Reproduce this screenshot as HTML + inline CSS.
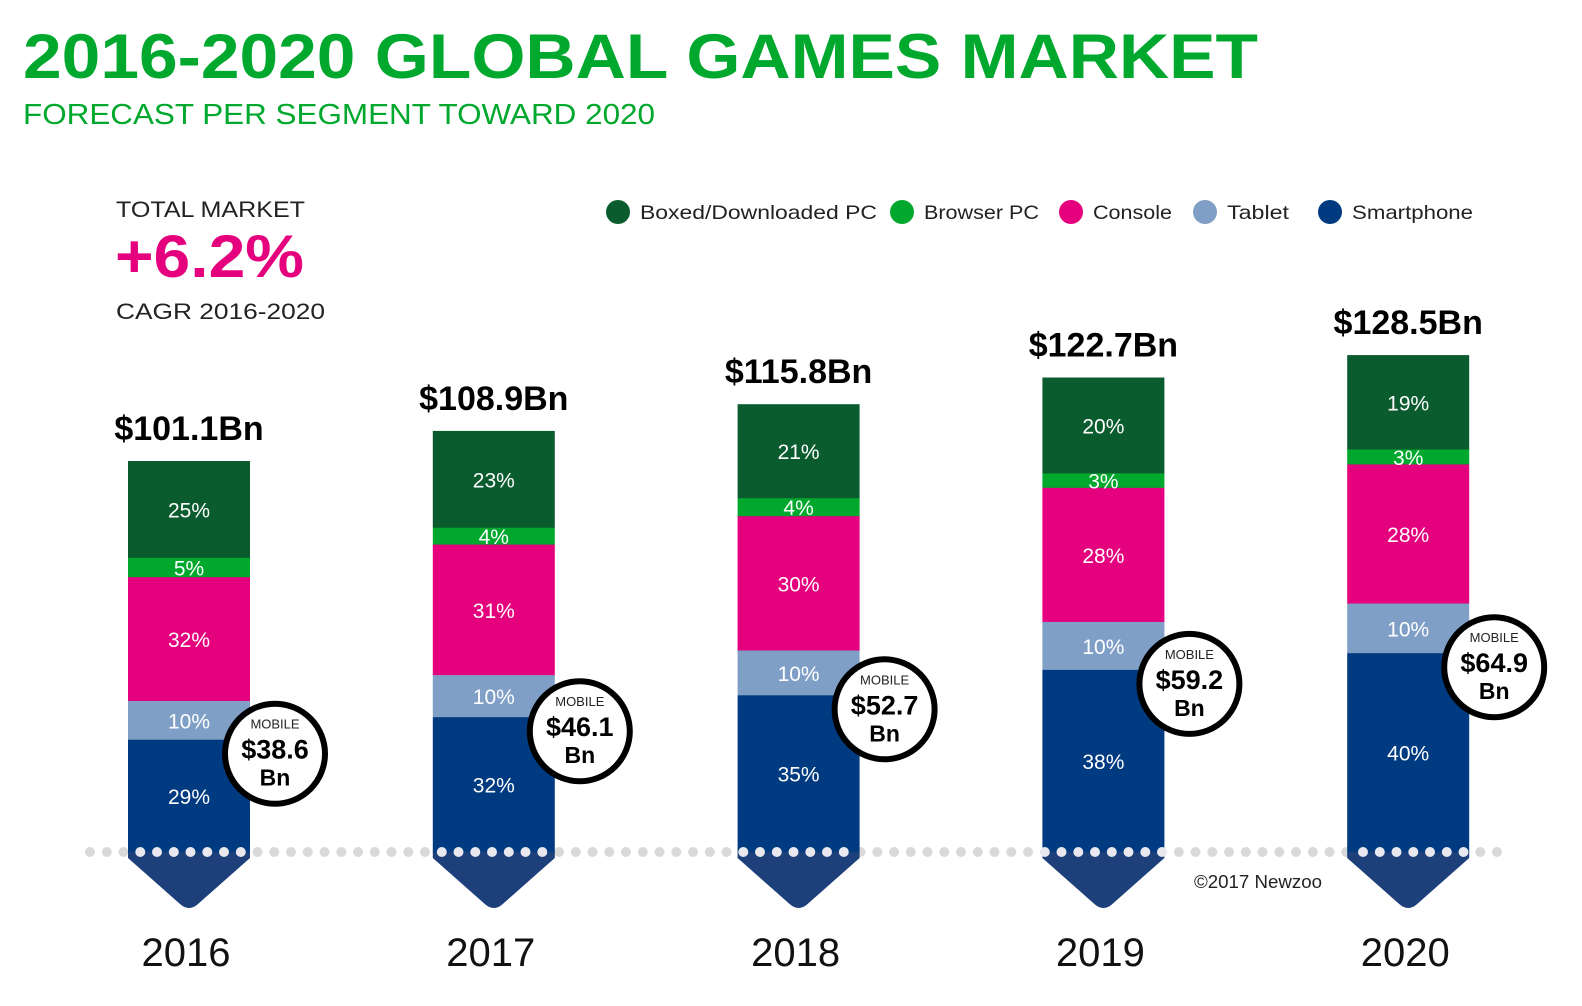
<!DOCTYPE html>
<html><head><meta charset="utf-8"><style>
html,body{margin:0;padding:0;background:#fff;}
svg{display:block;font-family:"Liberation Sans",sans-serif;}
</style></head><body>
<svg id="chart" width="1582" height="1006" viewBox="0 0 1582 1006">
<text x="23" y="78" font-size="63" font-weight="bold" fill="#00a82d" textLength="1235" lengthAdjust="spacingAndGlyphs">2016-2020 GLOBAL GAMES MARKET</text>
<text x="23" y="124" font-size="29" fill="#00a82d" textLength="632" lengthAdjust="spacingAndGlyphs">FORECAST PER SEGMENT TOWARD 2020</text>
<text x="116" y="217" font-size="22" fill="#222" textLength="189" lengthAdjust="spacingAndGlyphs">TOTAL MARKET</text>
<text x="115" y="277" font-size="60" font-weight="bold" fill="#e5007d" textLength="189" lengthAdjust="spacingAndGlyphs">+6.2%</text>
<text x="116" y="319" font-size="22" fill="#222" textLength="209" lengthAdjust="spacingAndGlyphs">CAGR 2016-2020</text>
<text x="1194" y="888" font-size="18" fill="#222" textLength="128" lengthAdjust="spacingAndGlyphs">©2017 Newzoo</text>
<g id="legend"></g>
<g id="dotsBack"></g>
<g id="bars"></g>
<g id="dotsFront"></g>
<g id="labels"></g>
</svg>
<script>
const years = ["2016","2017","2018","2019","2020"];
const totals = [101.1, 108.9, 115.8, 122.7, 128.5];
const totalLabels = ["$101.1Bn","$108.9Bn","$115.8Bn","$122.7Bn","$128.5Bn"];
const boxedPct = [25, 23, 21, 20, 19];
const browserPct = [5, 4, 4, 3, 3];
const consolePct = [32, 31, 30, 28, 28];
const tabletPct = [10, 10, 10, 10, 10];
const smartPct = [29, 32, 35, 38, 40];
const mobileTotals = [38.6, 46.1, 52.7, 59.2, 64.9];
const segNames = ["Boxed/Downloaded PC","Browser PC","Console","Tablet","Smartphone"];

const NS = "http://www.w3.org/2000/svg";
const baseY = 852, pxPerBn = 3.867, barW = 122;
function xCenter(i){ return 189 + i * 304.8; }
function yScale(v){ return baseY - v * pxPerBn; }
const colors = ["#0a5c2e","#00a82d","#e5007d","#809fc7","#003a80"];
const segKeys = ["boxed","browser","console","tablet","smartphone"];

function mk(tag, attrs, parent, text){
  const el = document.createElementNS(NS, tag);
  for (const k in attrs) el.setAttribute(k, attrs[k]);
  if (text !== undefined) el.textContent = text;
  parent.appendChild(el);
  return el;
}

// legend
const legend = document.getElementById("legend");
const legDot = [618, 902, 1071, 1205, 1330];
const legLen = [237, 115, 79, 62, 121];
segNames.forEach((n, k) => {
  const c = mk("circle", {cx: legDot[k], cy: 212, r: 12, fill: colors[k]}, legend);
  
  
  const t = mk("text", {x: legDot[k] + 22, y: 219, "font-size": 19.5, fill: "#222", textLength: legLen[k], lengthAdjust: "spacingAndGlyphs"}, legend, n);
  
  
});

// dotted baseline
const dotsBack = document.getElementById("dotsBack");
const dotsFront = document.getElementById("dotsFront");
function onBar(x){ for (let i=0;i<years.length;i++){ const c=xCenter(i); if (x > c-barW/2+2 && x < c+barW/2-2) return true; } return false; }
for (let x = 90; x <= 1506; x += 16.75) {
  const front = onBar(x);
  const d = mk("circle", {cx: x.toFixed(1), cy: baseY, r: 5, fill: front ? "#e8e8ee" : "#d9d9d9"}, front ? dotsFront : dotsBack);
  
  
}

const bars = document.getElementById("bars");
const labels = document.getElementById("labels");
years.forEach((yr, i) => {
  const cx = xCenter(i), x0 = cx - barW/2, x1 = cx + barW/2;
  const g = mk("g", {}, bars);
  
  
  const pcts = [boxedPct[i], browserPct[i], consolePct[i], tabletPct[i], smartPct[i]];
  const sum = pcts.reduce((a,b)=>a+b,0);
  let top = yScale(totals[i]);
  let smartTop = baseY;
  pcts.forEach((p, k) => {
    const h = (baseY - yScale(totals[i])) * p / sum;
    const r = mk("rect", {x: x0, y: top.toFixed(1), width: barW, height: (h+0.5).toFixed(1), fill: colors[k]}, g);
    
    
    const t = mk("text", {x: cx, y: (top + h/2 + 8).toFixed(1), "font-size": 21, fill: "#fff", "text-anchor": "middle"}, labels, p + "%");
    
    
    if (k === 4) smartTop = top;
    top += h;
  });
  const ch = mk("path", {d: `M${x0},${baseY} L${x1},${baseY} L${x1},${baseY+6} L${cx+9},${baseY+52} Q${cx},${baseY+60} ${cx-9},${baseY+52} L${x0},${baseY+6} Z`, fill: "#1d3f7a"}, g);
  
  
  const tl = mk("text", {x: cx, y: (yScale(totals[i]) - 21).toFixed(1), "font-size": 34, "font-weight": "bold", fill: "#000", "text-anchor": "middle"}, labels, totalLabels[i]);
  
  
  const yl = mk("text", {x: cx - 3, y: 966, "font-size": 40, fill: "#111", "text-anchor": "middle"}, labels, yr);
  
  
  const bx = x1 + 25, by = smartTop + 14;
  const bg = mk("g", {}, labels);
  
  
  mk("circle", {cx: bx, cy: by, r: 50, fill: "#fff", stroke: "#000", "stroke-width": 6}, bg);
  mk("text", {x: bx, y: by - 25, "font-size": 13, fill: "#222", "text-anchor": "middle"}, bg, "MOBILE");
  mk("text", {x: bx, y: by + 5, "font-size": 27, "font-weight": "bold", fill: "#000", "text-anchor": "middle"}, bg, "$" + mobileTotals[i].toFixed(1));
  mk("text", {x: bx, y: by + 32, "font-size": 23, "font-weight": "bold", fill: "#000", "text-anchor": "middle"}, bg, "Bn");
});
</script>
</body></html>
